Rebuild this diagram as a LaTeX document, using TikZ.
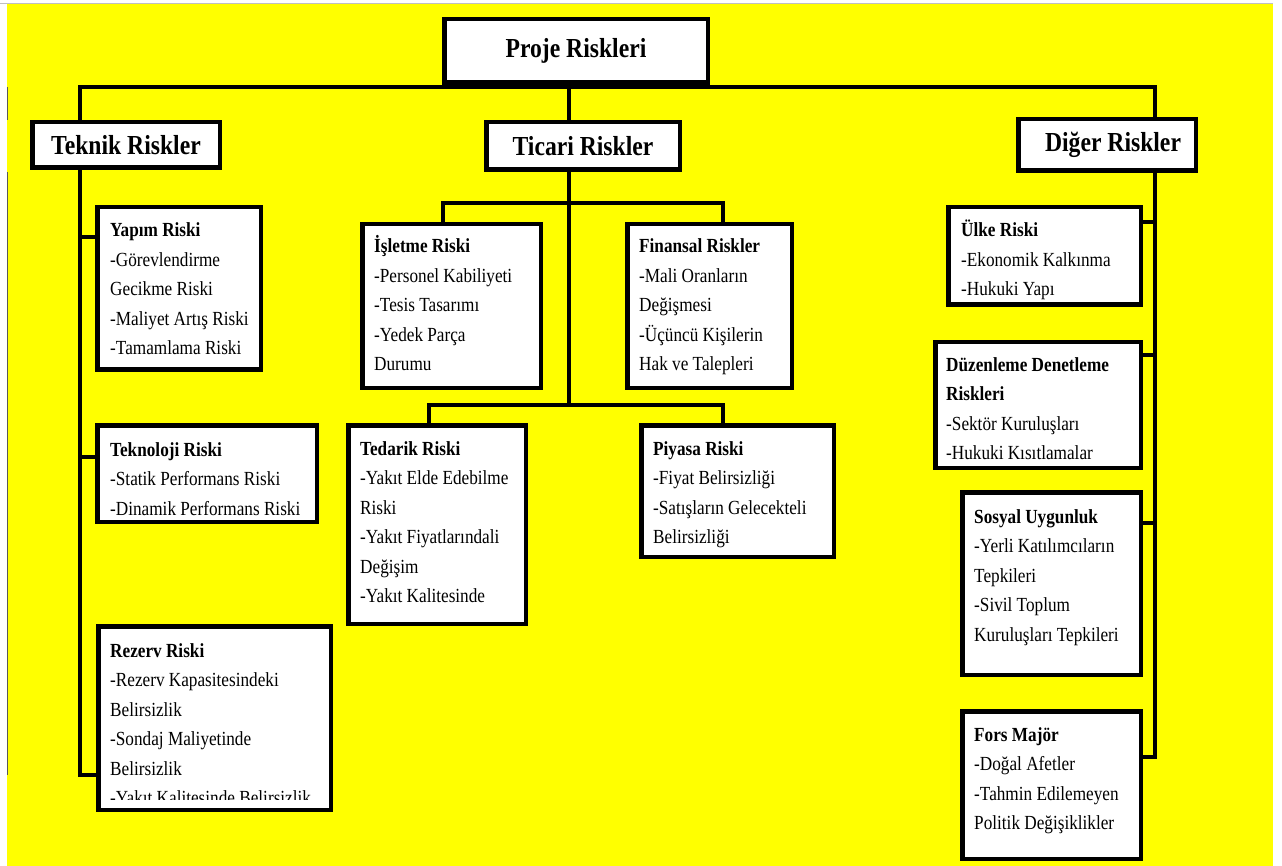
\documentclass[tikz,border=0pt]{standalone}
\usepackage{fontspec}
\setmainfont{Liberation Serif}[FakeStretch=0.86]
\definecolor{bgyellow}{HTML}{FFFF00}
\begin{document}
\begin{tikzpicture}[x=1pt,y=-1pt,
  conn/.style={line width=4.5pt},
  head/.style={draw, fill=white, line width=4.5pt, inner sep=0pt,
    font=\bfseries\fontsize{27.5}{30}\selectfont},
  riskbox/.style={draw, fill=white, line width=4.5pt, inner sep=0pt},
  body/.style={inner sep=0pt, anchor=base west, text width=#1, align=left,
    font=\fontsize{20}{29.5}\selectfont,
    execute at begin node={\spaceskip=0pt\xspaceskip=0pt}},
  body/.default=220pt
]
\useasboundingbox (0,0) rectangle (1282,866);
\fill[white] (0,0) rectangle (1282,866);
\fill[bgyellow] (7,4) rectangle (1273,866);
\draw[gray!50, line width=1pt] (0,3.5) -- (1273,3.5);
\draw[gray!70!black, line width=1pt] (7,87) -- (7,120);
\draw[gray!70!black, line width=1pt] (7,172) -- (7,775);

% coordinates of connector bends
\coordinate (busL) at (80,87);
\coordinate (busR) at (1155,87);
\coordinate (tc) at (569,87);
\coordinate (tkEnd) at (80,775);
\coordinate (b1L) at (443,203);
\coordinate (b1R) at (723,203);
\coordinate (b2L) at (429,405);
\coordinate (b2R) at (723,405);
\coordinate (dgEnd) at (1155,757);

% heads
\node[head, minimum width=263.5pt, minimum height=63.5pt] (proje) at (576,51) {Proje Riskleri};
\node[head, minimum width=187.5pt, minimum height=45.5pt] (teknik) at (126,145) {Teknik Riskler};
\node[head, minimum width=193.5pt, minimum height=47.5pt] (ticari) at (583,146) {Ticari Riskler};
\node[head, minimum width=177.5pt, minimum height=51.5pt] (diger) at (1107,145) {\hspace*{12pt}Diğer Riskler};

% boxes
\node[riskbox, minimum width=163.5pt, minimum height=162.5pt] (yapim) at (179,288.5) {};
\node[riskbox, minimum width=219.5pt, minimum height=96.5pt] (teknoloji) at (207,473.5) {};
\node[riskbox, minimum width=232.5pt, minimum height=183.5pt] (rezerv) at (214.5,718) {};
\node[riskbox, minimum width=178.5pt, minimum height=163.5pt] (isletme) at (451.5,306) {};
\node[riskbox, minimum width=164.5pt, minimum height=163.5pt] (finansal) at (709.5,306) {};
\node[riskbox, minimum width=177.5pt, minimum height=198.5pt] (tedarik) at (437,524.5) {};
\node[riskbox, minimum width=192.5pt, minimum height=131.5pt] (piyasa) at (737.5,491) {};
\node[riskbox, minimum width=192.5pt, minimum height=97.5pt] (ulke) at (1044.5,256) {};
\node[riskbox, minimum width=205.5pt, minimum height=125.5pt] (duzen) at (1038,405) {};
\node[riskbox, minimum width=178.5pt, minimum height=182.5pt] (sosyal) at (1051.5,583.5) {};
\node[riskbox, minimum width=178.5pt, minimum height=147.5pt] (fors) at (1051.5,785) {};

% texts
\node[body] (yapimT) at (110,237) {\textbf{Yapım Riski}\\-Görevlendirme\\Gecikme Riski\\-Maliyet Artış Riski\\-Tamamlama Riski};
\node[body] (teknolojiT) at (110,456) {\textbf{Teknoloji Riski}\\-Statik Performans Riski\\-Dinamik Performans Riski};
\begin{scope}
\clip (96,624) rectangle (333,799);
\node[body] (rezervT) at (110,657) {\textbf{Rezerv Riski}\\-Rezerv Kapasitesindeki\\Belirsizlik\\-Sondaj Maliyetinde\\Belirsizlik\\-Yakıt Kalitesinde Belirsizlik};
\end{scope}
\node[body] (isletmeT) at (374,253) {\textbf{İşletme Riski}\\-Personel Kabiliyeti\\-Tesis Tasarımı\\-Yedek Parça\\Durumu};
\node[body] (finansalT) at (639,253) {\textbf{Finansal Riskler}\\-Mali Oranların\\Değişmesi\\-Üçüncü Kişilerin\\Hak ve Talepleri};
\node[body] (tedarikT) at (360,455) {\textbf{Tedarik Riski}\\-Yakıt Elde Edebilme\\Riski\\-Yakıt Fiyatlarındali\\Değişim\\-Yakıt Kalitesinde};
\node[body] (piyasaT) at (653,455) {\textbf{Piyasa Riski}\\-Fiyat Belirsizliği\\-Satışların Gelecekteli\\Belirsizliği};
\node[body] (ulkeT) at (961,237) {\textbf{Ülke Riski}\\-Ekonomik Kalkınma\\-Hukuki Yapı};
\node[body] (duzenT) at (946,371) {\textbf{Düzenleme Denetleme}\\\textbf{Riskleri}\\-Sektör Kuruluşları\\-Hukuki Kısıtlamalar};
\node[body] (sosyalT) at (974,523) {\textbf{Sosyal Uygunluk}\\-Yerli Katılımcıların\\Tepkileri\\-Sivil Toplum\\Kuruluşları Tepkileri};
\node[body] (forsT) at (974,741) {\textbf{Fors Majör}\\-Doğal Afetler\\-Tahmin Edilemeyen\\Politik Değişiklikler};

% connectors
\draw[conn] (teknik.north -| busL) -- (busL) -- (busR) -- (diger.north -| busR);
\draw[conn] (tc) -- (tc |- ticari.north);
\draw[conn] (teknik.south -| tkEnd) -- (tkEnd) -- (tkEnd -| rezerv.west);
\draw[conn] (80,237) -- (yapim.west |- 80,237);
\draw[conn] (80,457) -- (teknoloji.west |- 80,457);
\draw[conn] (ticari.south -| tc) -- (tc |- b2L);
\draw[conn] (isletme.north -| b1L) -- (b1L) -- (b1R) -- (finansal.north -| b1R);
\draw[conn] (tedarik.north -| b2L) -- (b2L) -- (b2R) -- (piyasa.north -| b2R);
\draw[conn] (diger.south -| dgEnd) -- (dgEnd) -- (dgEnd -| fors.east);
\draw[conn] (1155,222) -- (ulke.east |- 1155,222);
\draw[conn] (1155,355) -- (duzen.east |- 1155,355);
\draw[conn] (1155,523) -- (sosyal.east |- 1155,523);
\end{tikzpicture}
\end{document}
